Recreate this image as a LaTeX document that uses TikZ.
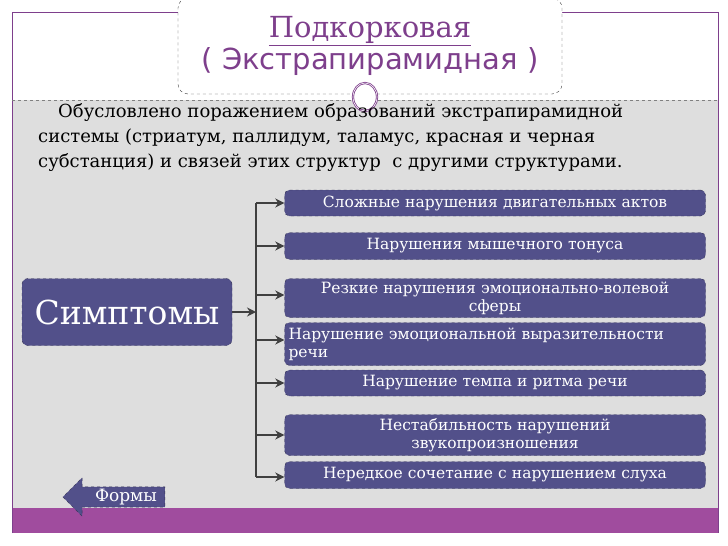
\documentclass[tikz,border=0pt]{standalone}
\usepackage{fontspec}
\setmainfont{DejaVu Serif}
\newfontfamily\titlesans{DejaVu Sans}
\usetikzlibrary{shapes.arrows,arrows.meta}
\definecolor{boxblue}{HTML}{52508A}
\definecolor{plum}{HTML}{7E3F8C}
\definecolor{barplum}{HTML}{A04C9E}
\definecolor{panel}{HTML}{DEDEDE}
\tikzset{
  symbox/.style={draw=boxblue!60!black, dashed, fill=boxblue, rounded corners=5pt,
    text=white, font=\fontsize{15.5}{18}\selectfont, align=center,
    minimum width=421pt, text width=413pt, inner sep=2pt},
  branch/.style={-{Stealth[length=9pt, width=9pt]}, line width=1.6pt, draw=black!75},
}
\begin{document}
\begin{tikzpicture}[x=1pt, y=-1pt]
	\useasboundingbox (0,0) rectangle (728,546);
	\fill[white] (0,0) rectangle (728,546);
	\fill[panel] (12,100) rectangle (718,508);
	\fill[barplum] (12,508) rectangle (718,533);
	\draw[plum] (12,533) -- (12,12) -- (718,12) -- (718,533);
	\draw[dashed, gray] (12,100) -- (718,100);
	\node[draw=black!75, dashed, rounded corners=10pt, fill=white, minimum width=384pt,
	  minimum height=96pt, text=plum, font=\fontsize{29}{38}\selectfont, align=center]
	  (title) at (370,46) {\raisebox{-6pt}{\underline{Подкорковая}}\\{\titlesans ( Экстрапирамидная )}};
	\draw[plum, double, thick, fill=white] (365,97) circle [x radius=12, y radius=14];
	\node[anchor=north west, align=left, font=\fontsize{18}{25}\selectfont,
	  inner sep=0pt] (cause) at (38,103)
	  {\hspace{20pt}Обусловлено поражением образований экстрапирамидной\\
	   системы (стриатум, паллидум, таламус, красная и черная\\
	   субстанция) и связей этих структур~ с другими структурами.};
	\node[draw=boxblue!60!black, dashed, fill=boxblue, rounded corners=6pt, text=white,
	  minimum width=210pt, minimum height=67pt, font=\fontsize{33}{36}\selectfont]
	  (symp) at (127,312) {Симптомы};
	\node[symbox, minimum height=26pt] (s1) at (495,203) {Сложные нарушения двигательных актов};
	\node[symbox, minimum height=27pt] (s2) at (495,246) {Нарушения мышечного тонуса};
	\node[symbox, minimum height=39pt] (s3) at (495,298) {Резкие нарушения эмоционально-волевой\\сферы};
	\node[symbox, minimum height=43pt, align=left] (s4) at (495,344) {Нарушение эмоциональной выразительности речи};
	\node[symbox, minimum height=26pt] (s5) at (495,383) {Нарушение темпа и ритма речи};
	\node[symbox, minimum height=41pt] (s6) at (495,435) {Нестабильность нарушений\\звукопроизношения};
	\node[symbox, minimum height=27pt] (s7) at (495,475) {Нередкое сочетание с нарушением слуха};
	\coordinate (top) at (256,203);
	\coordinate (bot) at (256,477);
	\draw[line width=1.6pt, black!75] (top) -- (bot);
	\draw[branch] (symp.east) -- (256,312);
	\foreach \s/\yy in {s1/203, s2/246, s3/295, s4/340, s5/383, s6/435, s7/477}
		\draw[branch] (256,\yy) -- (\s.west |- 0,\yy);
	\node[single arrow, shape border rotate=180, draw=boxblue!60!black, dashed, fill=boxblue,
	  text=white, font=\fontsize{17}{18}\selectfont, minimum height=102pt,
	  single arrow head extend=9pt, single arrow tip angle=90, inner sep=2pt]
	  (forms) at (119,497) {\hspace{14pt}Формы};
\end{tikzpicture}
\end{document}
